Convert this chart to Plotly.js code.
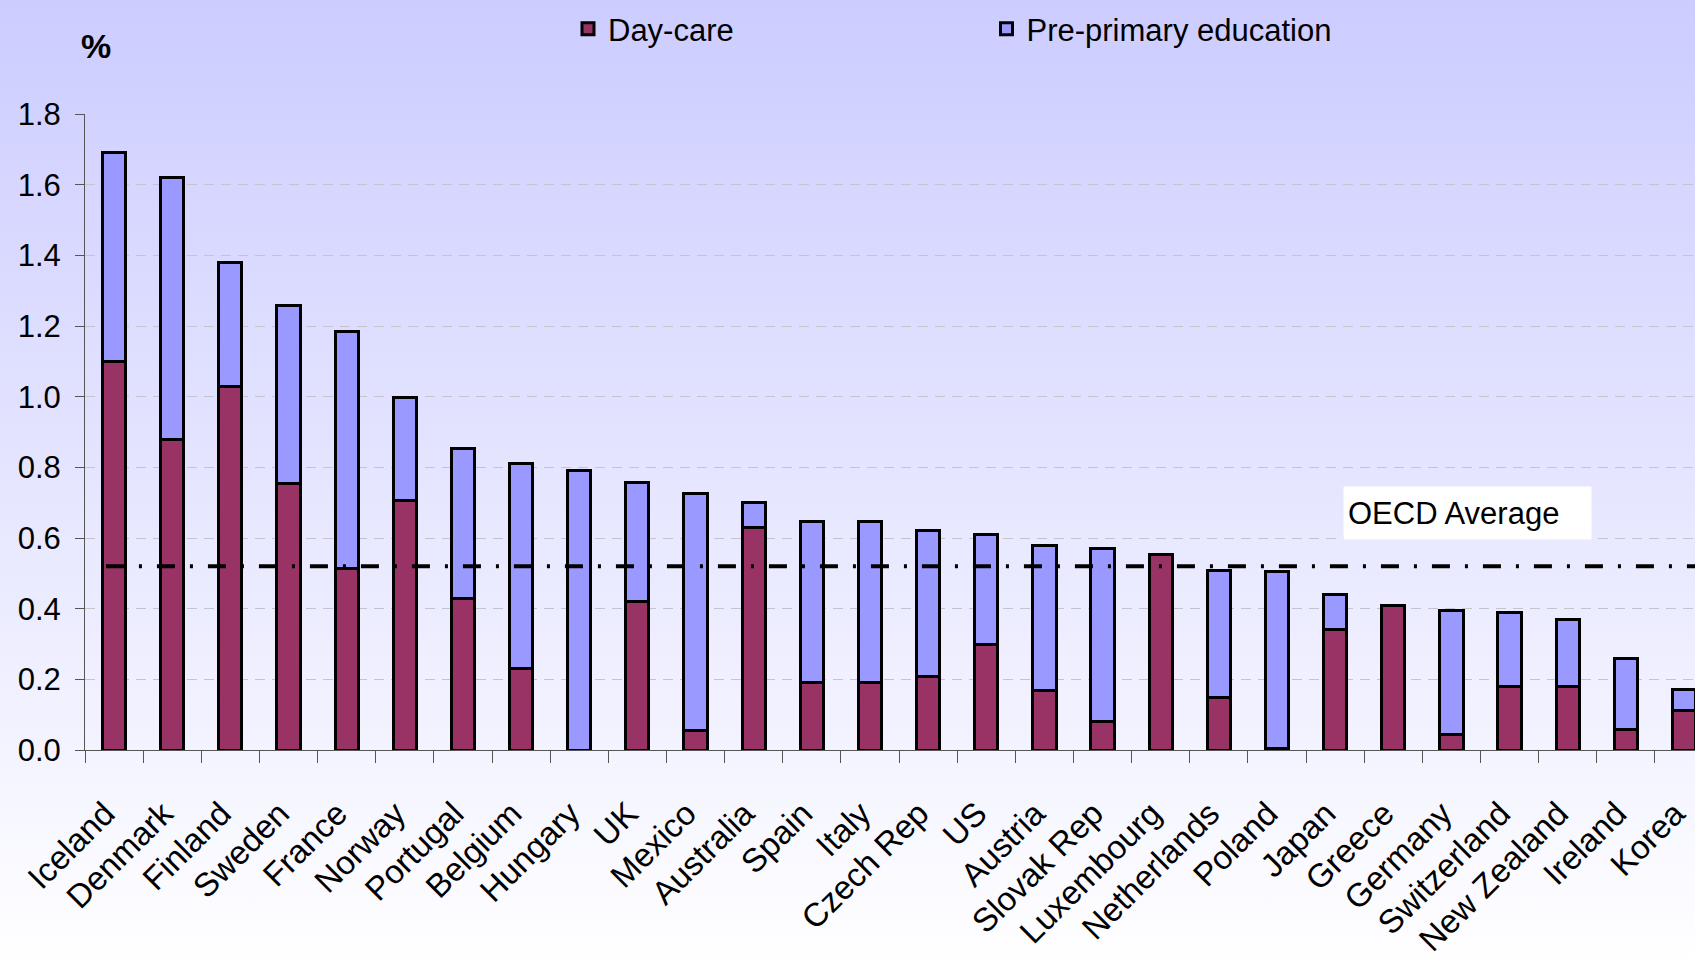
<!DOCTYPE html>
<html>
<head>
<meta charset="utf-8">
<script src="https://cdn.plot.ly/plotly-3.0.1.min.js"></script>
<style>
  html, body { margin: 0; padding: 0; overflow: hidden; }
  body { width: 1695px; height: 966px; background: linear-gradient(to bottom, #ccccff 0%, #ffffff 100%); }
  #chart { width: 1695px; height: 966px; }
</style>
</head>
<body>
<div id="chart"></div>
<script>
const countries = ["Iceland","Denmark","Finland","Sweden","France","Norway","Portugal","Belgium","Hungary","UK","Mexico","Australia","Spain","Italy","Czech Rep","US","Austria","Slovak Rep","Luxembourg","Netherlands","Poland","Japan","Greece","Germany","Switzerland","New Zealand","Ireland","Korea"];
const dayCare = [1.10,0.88,1.03,0.754,0.513,0.706,0.429,0.231,0,0.419,0.056,0.630,0.191,0.191,0.209,0.298,0.168,0.081,0.553,0.148,0.005,0.342,0.408,0.044,0.179,0.179,0.058,0.111];
const prePrimary = [0.59,0.74,0.35,0.503,0.671,0.292,0.425,0.579,0.79,0.339,0.669,0.07,0.457,0.457,0.411,0.312,0.41,0.488,0,0.361,0.499,0.099,0,0.351,0.211,0.191,0.201,0.06];
const oecdAverage = 0.52;
const yTicks = [0,0.2,0.4,0.6,0.8,1.0,1.2,1.4,1.6,1.8];

const sans = "'Liberation Sans', Arial, sans-serif";

const traces = [
  {
    type: 'bar', name: 'Day-care', x: countries, y: dayCare,
    marker: { color: '#993366', line: { color: '#000000', width: 3 } },
    legend: 'legend', showlegend: true, hoverinfo: 'x+y'
  },
  {
    type: 'bar', name: 'Pre-primary education', x: countries, y: prePrimary,
    marker: { color: '#9999ff', line: { color: '#000000', width: 3 } },
    legend: 'legend2', showlegend: true, hoverinfo: 'x+y'
  }
];

const layout = {
  width: 1695, height: 966,
  showlegend: true,
  paper_bgcolor: 'rgba(0,0,0,0)',
  plot_bgcolor: 'rgba(0,0,0,0)',
  margin: { l: 85, r: 0, t: 114, b: 216 },
  barmode: 'stack',
  bargap: 0.6,
  font: { family: sans, size: 31, color: '#000' },
  xaxis: {
    type: 'category',
    range: [-0.5, 27.19],
    showline: true, linecolor: '#555555', linewidth: 1,
    ticks: 'outside', ticklen: 12, tickcolor: '#555555', tickson: 'boundaries',
    tickangle: -45,
    tickfont: { family: sans, size: 33, color: '#000' },
    ticklabelstandoff: 30,
    ticklabelshift: -9,
    showgrid: false, zeroline: false, fixedrange: true
  },
  yaxis: {
    range: [0, 1.8],
    tickvals: yTicks, tickformat: '.1f',
    showline: true, linecolor: '#555555', linewidth: 1,
    ticks: 'outside', ticklen: 9, tickcolor: '#555555',
    tickfont: { family: sans, size: 31, color: '#000' },
    ticklabelstandoff: 8,
    showgrid: true, gridcolor: '#c4c4cc', gridwidth: 1, griddash: '10px,7px',
    zeroline: false, fixedrange: true
  },
  legend: {
    visible: true,
    orientation: 'h', xref: 'container', yref: 'container',
    x: 0.3351, y: 0.97, xanchor: 'left', yanchor: 'middle',
    bgcolor: 'rgba(0,0,0,0)', borderwidth: 0,
    font: { family: sans, size: 31, color: '#000' }
  },
  legend2: {
    visible: true,
    orientation: 'h', xref: 'container', yref: 'container',
    x: 0.582, y: 0.97, xanchor: 'left', yanchor: 'middle',
    bgcolor: 'rgba(0,0,0,0)', borderwidth: 0,
    font: { family: sans, size: 31, color: '#000' }
  },
  shapes: [
    {
      type: 'line', xref: 'x', yref: 'y', layer: 'above',
      x0: -0.14, x1: 27.6, y0: oecdAverage, y1: oecdAverage,
      line: { color: '#000000', width: 4, dash: '18px,15px,3px,15px' }
    }
  ],
  annotations: [
    {
      text: '<b>%</b>', xref: 'paper', yref: 'paper',
      x: 0.0068, y: 1.107, xanchor: 'center', yanchor: 'middle',
      showarrow: false, font: { family: sans, size: 34, color: '#000' }
    },
    {
      text: 'OECD Average', xref: 'paper', yref: 'y',
      x: 0.7814, y: 0.671, xanchor: 'left', yanchor: 'middle',
      width: 239, height: 44, align: 'left', borderpad: 4,
      bgcolor: '#ffffff', showarrow: false,
      font: { family: sans, size: 31, color: '#000' }
    }
  ]
};

Plotly.newPlot('chart', traces, layout, { displayModeBar: false, staticPlot: true });
</script>
</body>
</html>
